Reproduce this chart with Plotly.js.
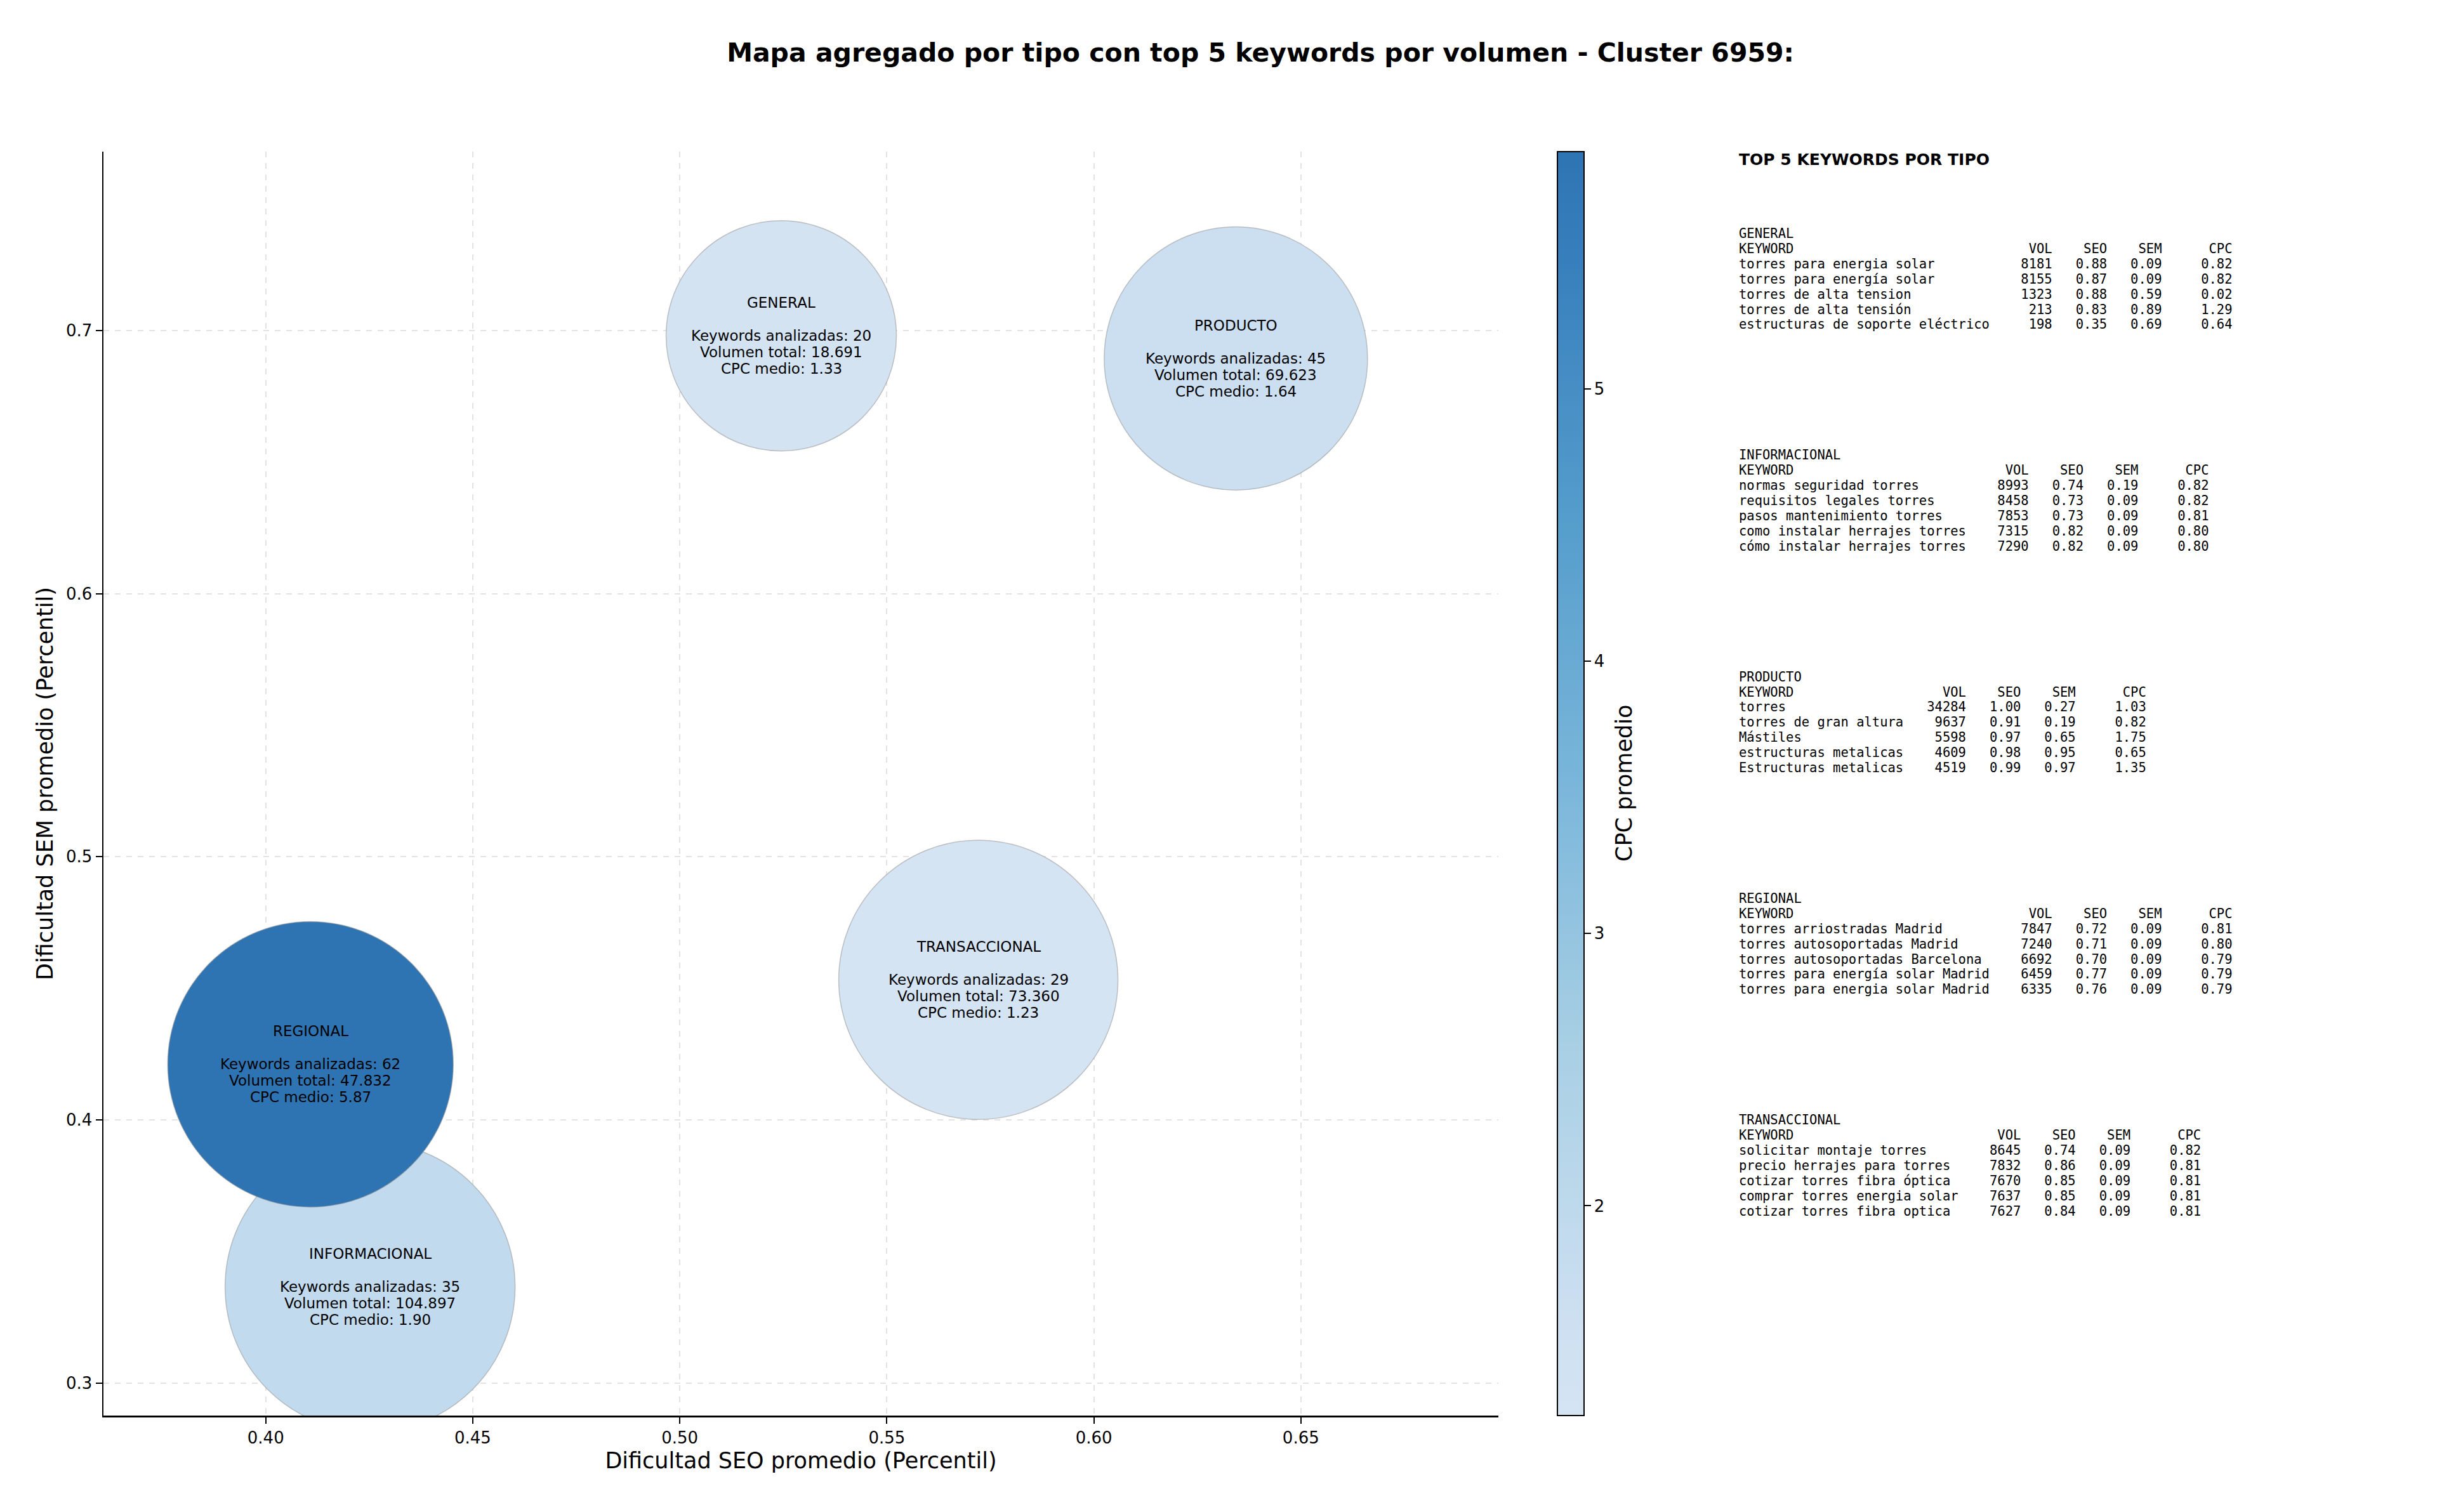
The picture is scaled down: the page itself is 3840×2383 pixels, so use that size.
<!DOCTYPE html>
<html>
<head>
<meta charset="utf-8">
<script src="https://cdn.plot.ly/plotly-3.0.1.min.js"></script>
<style>html,body{margin:0;padding:0;background:#fff;}</style>
</head>
<body>
<div id="chart" style="width:3840px;height:2383px;"></div>
<script>
// ---------------- DATA ----------------
const types = ['GENERAL', 'INFORMACIONAL', 'PRODUCTO', 'REGIONAL', 'TRANSACCIONAL'];
const seoMean = [0.5245, 0.4252, 0.6343, 0.4108, 0.5721];
const semMean = [0.6980, 0.3365, 0.6894, 0.4211, 0.4532];
const kwCount = [20, 35, 45, 62, 29];
const volTotal = [18691, 104897, 69623, 47832, 73360];
const cpcMean = [1.33, 1.90, 1.64, 5.87, 1.23];

const generalKw  = ['torres para energia solar', 'torres para energía solar', 'torres de alta tension', 'torres de alta tensión', 'estructuras de soporte eléctrico'];
const generalVol = [8181, 8155, 1323, 213, 198];
const generalSeo = [0.88, 0.87, 0.88, 0.83, 0.35];
const generalSem = [0.09, 0.09, 0.59, 0.89, 0.69];
const generalCpc = [0.82, 0.82, 0.02, 1.29, 0.64];

const infoKw  = ['normas seguridad torres', 'requisitos legales torres', 'pasos mantenimiento torres', 'como instalar herrajes torres', 'cómo instalar herrajes torres'];
const infoVol = [8993, 8458, 7853, 7315, 7290];
const infoSeo = [0.74, 0.73, 0.73, 0.82, 0.82];
const infoSem = [0.19, 0.09, 0.09, 0.09, 0.09];
const infoCpc = [0.82, 0.82, 0.81, 0.80, 0.80];

const prodKw  = ['torres', 'torres de gran altura', 'Mástiles', 'estructuras metalicas', 'Estructuras metalicas'];
const prodVol = [34284, 9637, 5598, 4609, 4519];
const prodSeo = [1.00, 0.91, 0.97, 0.98, 0.99];
const prodSem = [0.27, 0.19, 0.65, 0.95, 0.97];
const prodCpc = [1.03, 0.82, 1.75, 0.65, 1.35];

const regKw  = ['torres arriostradas Madrid', 'torres autosoportadas Madrid', 'torres autosoportadas Barcelona', 'torres para energía solar Madrid', 'torres para energia solar Madrid'];
const regVol = [7847, 7240, 6692, 6459, 6335];
const regSeo = [0.72, 0.71, 0.70, 0.77, 0.76];
const regSem = [0.09, 0.09, 0.09, 0.09, 0.09];
const regCpc = [0.81, 0.80, 0.79, 0.79, 0.79];

const transKw  = ['solicitar montaje torres', 'precio herrajes para torres', 'cotizar torres fibra óptica', 'comprar torres energia solar', 'cotizar torres fibra optica'];
const transVol = [8645, 7832, 7670, 7637, 7627];
const transSeo = [0.74, 0.86, 0.85, 0.85, 0.84];
const transSem = [0.09, 0.09, 0.09, 0.09, 0.09];
const transCpc = [0.82, 0.81, 0.81, 0.81, 0.81];

const xTickLabels = ['0.40', '0.45', '0.50', '0.55', '0.60', '0.65'];
const yTickLabels = ['0.3', '0.4', '0.5', '0.6', '0.7'];
const cbTickLabels = ['2', '3', '4', '5'];

// ---------------- STYLE ----------------
const FIG_W = 3840, FIG_H = 2383;
const M = {l: 163, r: 1479, t: 239, b: 152};
const PLOT_H = FIG_H - M.t - M.b;
const PLOT_W = FIG_W - M.l - M.r;
const bubblePx = {GENERAL: 363, INFORMACIONAL: 457, PRODUCTO: 415, REGIONAL: 450, TRANSACCIONAL: 440};
const SANS = 'DejaVu Sans, Liberation Sans, sans-serif';
const MONO = 'DejaVu Sans Mono, Liberation Mono, monospace';
// truncated "Blues" (0.2 - 0.8) blended with alpha 0.9 on white
const colorscale = [
  [0.0, 'rgb(213,228,243)'],
  [0.0833, 'rgb(204,223,241)'],
  [0.2917, 'rgb(168,207,228)'],
  [0.5, 'rgb(122,182,218)'],
  [0.7083, 'rgb(85,157,204)'],
  [0.9167, 'rgb(55,127,188)'],
  [1.0, 'rgb(46,116,179)']
];

function fmtThousands(n) {
  return String(n).replace(/\B(?=(\d{3})+(?!\d))/g, '.');
}
const NB = '\u00A0';
function nb(s) { return s.replace(/ /g, NB); }

// ---------------- TRACE ----------------
const trace = {
  type: 'scatter',
  mode: 'markers',
  x: seoMean,
  y: semMean,
  text: types,
  hoverinfo: 'text',
  marker: {
    size: types.map(t => bubblePx[t]),
    sizemode: 'diameter',
    color: cpcMean,
    cmin: Math.min(...cpcMean),
    cmax: Math.max(...cpcMean),
    colorscale: colorscale,
    opacity: 1,
    line: {color: 'rgba(150,150,150,0.55)', width: 1.5},
    showscale: true,
    colorbar: {
      x: (2454 - M.l) / PLOT_W,
      xanchor: 'left',
      xpad: 0,
      y: 0.5,
      yanchor: 'middle',
      ypad: 0,
      len: 1,
      lenmode: 'fraction',
      thickness: 42,
      thicknessmode: 'pixels',
      outlinewidth: 2,
      outlinecolor: '#000',
      ticks: 'outside',
      ticklen: 10,
      tickwidth: 2,
      tickcolor: '#000',
      tickvals: cbTickLabels.map(Number),
      ticktext: cbTickLabels,
      tickfont: {family: SANS, size: 26, color: '#000'}
    }
  },
  cliponaxis: true,
  showlegend: false
};

// ---------------- ANNOTATIONS ----------------
const annotations = [];
const LINE = 26;
types.forEach((t, i) => {
  const lines = [
    [t, 2 * LINE],
    ['Keywords analizadas: ' + kwCount[i], 0],
    ['Volumen total: ' + fmtThousands(volTotal[i]), -LINE],
    ['CPC medio: ' + cpcMean[i].toFixed(2), -2 * LINE]
  ];
  lines.forEach(([txt, dy]) => {
    annotations.push({
      x: seoMean[i], y: semMean[i], xref: 'x', yref: 'y',
      text: txt, showarrow: false, yshift: dy,
      xanchor: 'center', yanchor: 'middle',
      font: {family: SANS, size: 23, color: '#000'}
    });
  });
});

// colorbar title
annotations.push({
  xref: 'paper', yref: 'paper', x: (2559 - M.l) / PLOT_W, y: 0.5,
  xanchor: 'center', yanchor: 'middle', showarrow: false, textangle: -90,
  text: 'CPC promedio', font: {family: SANS, size: 35, color: '#000'}
});

// right-hand panel
const PANEL_X = (2738 - M.l) / PLOT_W;
function pyPaper(px) { return (FIG_H - M.b - px) / PLOT_H; }
annotations.push({
  xref: 'paper', yref: 'paper', x: PANEL_X, y: pyPaper(252),
  xanchor: 'left', yanchor: 'middle', showarrow: false,
  text: '<b>TOP 5 KEYWORDS POR TIPO</b>',
  font: {family: SANS, size: 25, color: '#000'}
});

const blocks = [
  ['GENERAL', generalKw, generalVol, generalSeo, generalSem, generalCpc],
  ['INFORMACIONAL', infoKw, infoVol, infoSeo, infoSem, infoCpc],
  ['PRODUCTO', prodKw, prodVol, prodSeo, prodSem, prodCpc],
  ['REGIONAL', regKw, regVol, regSeo, regSem, regCpc],
  ['TRANSACCIONAL', transKw, transVol, transSeo, transSem, transCpc]
];
const BLOCK_TOP = 368, BLOCK_STEP = 349.3, ROW = 23.9;
blocks.forEach(([name, kw, vol, seo, sem, cpc], b) => {
  const w = Math.max(...kw.map(k => k.length));
  const lines = [name,
    'KEYWORD'.padEnd(w) + 'VOL'.padStart(8) + 'SEO'.padStart(7) + 'SEM'.padStart(7) + 'CPC'.padStart(9)];
  kw.forEach((k, j) => {
    lines.push(k.padEnd(w) + String(vol[j]).padStart(8) + seo[j].toFixed(2).padStart(7) +
      sem[j].toFixed(2).padStart(7) + cpc[j].toFixed(2).padStart(9));
  });
  lines.forEach((ln, k) => {
    annotations.push({
      xref: 'paper', yref: 'paper', x: PANEL_X, y: pyPaper(BLOCK_TOP + b * BLOCK_STEP + k * ROW),
      xanchor: 'left', yanchor: 'middle', showarrow: false, align: 'left',
      text: nb(ln),
      font: {family: MONO, size: 20.5, color: '#000'}
    });
  });
});

// ---------------- LAYOUT ----------------
const axisCommon = {
  showline: true, linecolor: '#000', linewidth: 2.5, mirror: false,
  ticks: 'outside', ticklen: 10, tickwidth: 2, tickcolor: '#000',
  tickfont: {family: SANS, size: 26, color: '#000'},
  showgrid: true, gridcolor: '#e3e3e3', gridwidth: 2, griddash: 'dash',
  zeroline: false, automargin: false, layer: 'above traces', fixedrange: true
};
const layout = {
  width: FIG_W, height: FIG_H,
  paper_bgcolor: '#fff', plot_bgcolor: '#fff',
  margin: {l: M.l, r: M.r, t: M.t, b: M.b, pad: 0},
  font: {family: SANS, color: '#000'},
  title: {
    text: '<b>Mapa agregado por tipo con top 5 keywords por volumen - Cluster 6959:</b>',
    font: {family: SANS, size: 41, color: '#000'},
    xref: 'container', yref: 'container',
    x: 1986 / FIG_W, y: 1 - 83 / FIG_H, xanchor: 'center', yanchor: 'middle'
  },
  xaxis: Object.assign({}, axisCommon, {
    range: [0.3608, 0.6977],
    tickvals: xTickLabels.map(Number), ticktext: xTickLabels,
    title: {text: 'Dificultad SEO promedio (Percentil)', font: {family: SANS, size: 35, color: '#000'}, standoff: 10}
  }),
  yaxis: Object.assign({}, axisCommon, {
    range: [0.2876, 0.768],
    tickvals: yTickLabels.map(Number), ticktext: yTickLabels,
    title: {text: 'Dificultad SEM promedio (Percentil)', font: {family: SANS, size: 35, color: '#000'}, standoff: 10}
  }),
  annotations: annotations,
  showlegend: false,
  hovermode: false
};

Plotly.newPlot('chart', [trace], layout, {staticPlot: true, responsive: false});
</script>
</body>
</html>
